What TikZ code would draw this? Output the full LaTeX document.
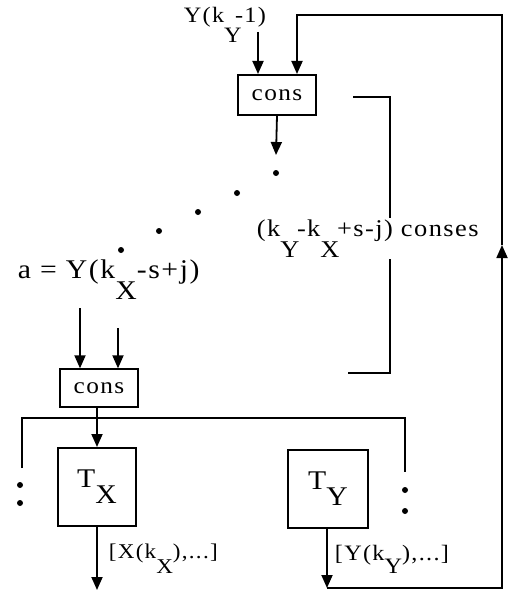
\documentclass[tikz,border=0pt]{standalone}
\usepackage{fontspec}
\setmainfont{Liberation Serif}[FakeStretch=1.1,LetterSpace=6]
\usetikzlibrary{arrows.meta}
\newcommand{\lo}[2][0.9em]{\raisebox{-#1}{#2}}
\newcommand{\fs}[1]{\fontsize{#1}{#1}\selectfont}
\begin{document}
\begin{tikzpicture}[x=1pt,y=-1pt,line width=1.8pt,
  >={Triangle[length=13pt,width=11pt]},
  box/.style={draw,line width=1.3pt,inner sep=0pt,font=\fs{23}},
  tbox/.style={draw,line width=2pt,inner sep=0pt,font=\fs{27}},
  lbl/.style={inner sep=0pt,anchor=base west},
  dot/.style={circle,fill,inner sep=0pt,minimum size=6pt}]
\useasboundingbox (0,0) rectangle (512,594);
% boxes
\node[box,minimum width=78pt,minimum height=40pt] (c1) at (277,95) {cons};
\node[box,minimum width=78pt,minimum height=38pt] (c2) at (99,388) {cons};
\node[tbox,minimum width=78pt,minimum height=78pt] (tx) at (97,487) {\raisebox{0.25em}{T}\lo[0.35em]{X}};
\node[tbox,minimum width=80pt,minimum height=78pt] (ty) at (328,489) {\raisebox{0.25em}{T}\lo[0.35em]{Y}};
% dots
\node[dot] (d1) at (276,173) {};
\node[dot] (d2) at (237,193) {};
\node[dot] (d3) at (198,212) {};
\node[dot] (d4) at (159,231) {};
\node[dot] (d5) at (121,250) {};
\node[dot] (d6) at (20,485) {};
\node[dot] (d7) at (20,503) {};
\node[dot] (d8) at (405,490) {};
\node[dot] (d9) at (405,511) {};
% coordinates
\coordinate (y1) at (258,32);
\coordinate (c1in) at (258,74);
\coordinate (c1fb) at (297,74);
\coordinate (c1out) at (276,155);
\coordinate (a1) at (80,308);
\coordinate (a2) at (118,328);
\coordinate (txout) at (97,590);
\coordinate (tyout) at (327,588);
\coordinate (corner1) at (502,588);
\coordinate (mid) at (502,245);
\coordinate (corner2) at (502,15);
\coordinate (top) at (297,15);
\coordinate (b1) at (353,97);
\coordinate (b2) at (390,97);
\coordinate (b3) at (390,373);
\coordinate (b4) at (348,373);
\coordinate (h1) at (22,468);
\coordinate (h2) at (22,418);
\coordinate (h3) at (405,418);
\coordinate (h4) at (405,472);
% bracket
\draw[line width=2.4pt] (b1) -- (b2) -- (b3) -- (b4);
% labels
\node[lbl,font=\fs{22}] (ly) at (183,23) {Y(k\lo[0.9em]{Y}\kern-0.3em-1)};
\node[lbl,font=\fs{27}] (la) at (17,278) {a = Y(k\lo[0.8em]{X}-s+j)};
\node[lbl,font=\fs{24},fill=white,inner sep=1pt] (lc) at (255,236) {(k\lo[0.9em]{Y}\kern-0.1em-k\lo[0.9em]{X}\kern-0.1em+s-j) conses};
\node[lbl,font=\fs{21}] (lx) at (108,558) {[X(k\lo[0.75em]{X}),...]};
\node[lbl,font=\fs{22}] (lyy) at (334,560) {[Y(k\lo[0.6em]{Y}),...]};
% arrows
\draw[->] (y1) -- (c1in);
\draw[->] (c1.south) -- (c1out);
\draw[->] (a1) -- (a1 |- c2.north);
\draw[->] (a2) -- (a2 |- c2.north);
\draw[->] (tx.north |- c2.south) -- (tx.north);
\draw (h1) -- (h2) -- (h3) -- (h4);
\draw[->] (tx.south) -- (txout);
\draw[->] (tyout |- ty.south) -- (tyout);
\draw[->] (tyout) -- (corner1) -- (mid);
\draw[->] (mid) -- (corner2) -- (top) -- (c1fb);
\end{tikzpicture}
\end{document}
